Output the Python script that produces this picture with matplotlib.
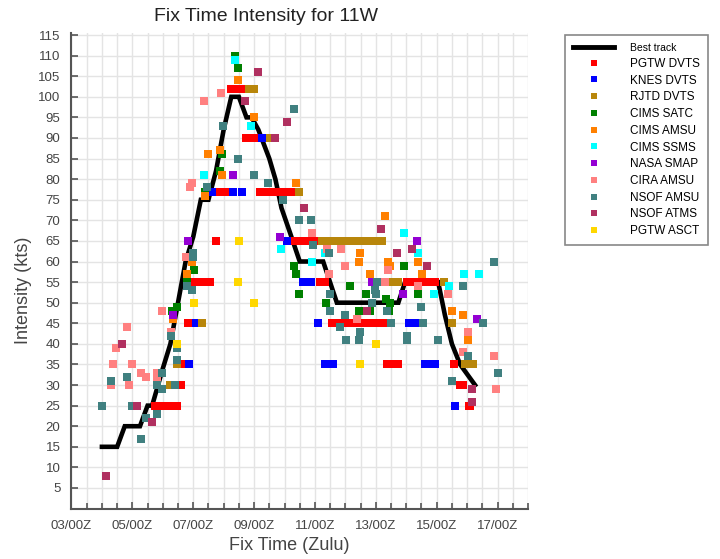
#!/usr/bin/env python3
"""
Fix time intensity chart for 11W (best track vs. satellite fixes)
"""

import matplotlib
matplotlib.use("Agg")
import matplotlib.pyplot as plt
from matplotlib.ticker import MultipleLocator

plt.rcParams['font.family'] = ['Liberation Sans', 'DejaVu Sans']

# Times are days since 03/00Z, intensities in kts
day_ticks = [0, 2, 4, 6, 8, 10, 12, 14]
day_labels = ['03/00Z', '05/00Z', '07/00Z', '09/00Z', '11/00Z', '13/00Z', '15/00Z', '17/00Z']

bt_t = [1.0, 1.5, 1.75, 2.25, 2.5, 2.65, 3.0, 3.25, 3.5, 3.75, 4.0, 4.25, 4.5, 4.75,
        5.0, 5.25, 5.5, 5.75, 5.92, 6.14, 6.5, 6.7, 6.9, 7.18, 7.5, 8.27, 8.72,
        10.74, 10.96, 12.05, 12.27, 12.5, 12.77, 13.26]
bt_v = [15, 15, 20, 20, 25, 25, 34, 40, 50, 60, 66, 75, 75, 82,
        92, 100, 100, 95, 95, 92, 85, 80, 73, 67, 60, 60, 50,
        50, 55, 55, 47, 40, 35, 30]

pgtw_dvts_t = [2.75, 2.875, 3.0, 3.125, 3.25, 3.375, 3.46, 3.59, 3.73, 3.84,
               4.0, 4.125, 4.25, 4.375, 4.54, 4.74, 4.88, 5.0, 5.09,
               5.24, 5.36, 5.48, 5.59, 5.73, 5.85, 5.96, 6.06,
               6.18, 6.3, 6.42, 6.54, 6.66, 6.78, 6.9, 7.02, 7.14, 7.23,
               7.34, 7.46, 7.58, 7.7, 7.82, 7.97, 8.15, 8.25, 8.33,
               8.55, 8.68, 8.8, 8.93, 9.05, 9.18, 9.3, 9.43, 9.55, 9.68, 9.8, 9.93, 10.05, 10.17, 10.22,
               10.38, 10.5, 10.62, 10.73,
               11.02, 11.15, 11.27, 11.4, 11.52, 11.65, 11.77, 11.9, 11.95,
               12.57, 12.75, 12.85, 13.05, 13.1]
pgtw_dvts_v = [25, 25, 25, 25, 25, 25, 25, 30, 35, 45,
               55, 55, 55, 55, 55, 65, 77, 77, 77,
               102, 102, 102, 102, 90, 90, 90, 90,
               77, 77, 77, 77, 77, 77, 77, 77, 77, 77,
               65, 65, 65, 65, 65, 65, 55, 55, 55,
               45, 45, 45, 45, 45, 45, 45, 45, 45, 45, 45, 45, 45, 45, 45,
               35, 35, 35, 35,
               55, 55, 55, 55, 55, 55, 55, 55, 55,
               35, 30, 30, 25, 25]

knes_dvts_t = [3.87, 4.09, 4.61, 5.32, 5.59, 6.25, 6.39, 7.07, 7.60, 7.86, 8.09, 8.33, 8.60,
               11.10, 11.34, 11.62, 11.78, 11.95, 12.60]
knes_dvts_v = [35, 45, 77, 77, 77, 90, 90, 65, 55, 55, 45, 35, 35,
               45, 45, 35, 35, 35, 25]

rjtd_dvts_t = [3.24, 3.48, 4.28, 5.84, 6.01, 6.52, 7.49,
               8.22, 8.44, 8.66, 8.88, 9.10, 9.32, 9.54, 9.76, 9.98, 10.2,
               10.58, 10.72, 12.23, 12.49, 12.93, 13.07, 13.2]
rjtd_dvts_v = [30, 35, 45, 102, 102, 90, 77,
               65, 65, 65, 65, 65, 65, 65, 65, 65, 65,
               55, 55, 55, 45, 35, 35, 35]

cims_satc_t = [3.29, 3.48, 3.79, 4.03, 4.39, 4.88, 4.94, 5.38, 5.47, 7.31, 7.38, 7.48,
               8.35, 9.15, 9.45, 9.68, 9.81, 10.33, 10.44, 10.47, 10.93, 11.40]
cims_satc_v = [48, 49, 55, 58, 77, 82, 86, 110, 107, 59, 57, 52,
               50, 54, 48, 52, 48, 51, 48, 50, 59, 52]

cims_amsu_t = [3.33, 3.81, 3.96, 4.39, 4.47, 4.88, 4.94, 5.47, 6.0, 7.38, 9.45, 9.48, 9.81,
               10.30, 10.41, 10.47, 11.40, 11.53, 12.51, 12.88, 13.04]
cims_amsu_v = [46, 57, 60, 76, 86, 87, 81, 104, 95, 79, 60, 62, 57,
               71, 60, 59, 60, 57, 48, 47, 41]

cims_ssms_t = [4.36, 5.38, 5.89, 6.88, 7.89, 8.33, 10.93, 11.40, 11.91, 12.42, 12.90, 13.39]
cims_ssms_v = [81, 109, 93, 63, 60, 62, 67, 62, 52, 54, 57, 57]

nasa_smap_t = [3.35, 3.84, 5.32, 6.85, 9.86, 10.88, 11.36, 13.34]
nasa_smap_v = [47, 65, 81, 66, 55, 52, 65, 46]

cira_amsu_t = [1.29, 1.35, 1.45, 1.81, 1.88, 1.98, 2.28, 2.45, 2.80, 2.80, 2.96, 3.26,
               3.76, 3.89, 3.95, 4.36, 4.90, 7.91, 8.39, 8.47, 8.85, 9.0, 9.39,
               10.30, 10.41, 11.40, 12.38, 12.88, 13.04, 13.88, 13.95]
cira_amsu_v = [30, 35, 39, 44, 30, 35, 33, 32, 33, 31, 48, 43,
               61, 78, 79, 99, 101, 67, 63, 57, 63, 59, 46,
               55, 58, 54, 52, 38, 43, 37, 29]

nsof_amsu_t = [0.99, 1.29, 1.81, 1.98, 2.27, 2.45, 2.82, 2.80, 2.96, 2.96, 3.40, 3.26,
               3.48, 3.48, 3.81, 3.96, 3.98, 4.0, 4.46, 4.99, 5.48, 6.0, 6.47, 6.96,
               7.31, 7.48, 7.86, 7.95, 8.47, 8.49, 8.49, 8.82, 8.99, 9.01, 9.45, 9.48,
               9.86, 9.97, 10.0, 10.03, 10.36, 10.49, 11.01, 11.01, 11.48, 11.56, 12.05,
               12.51, 12.88, 13.04, 13.51, 13.88, 14.03]
nsof_amsu_v = [25, 31, 32, 25, 17, 22, 23, 30, 33, 29, 30, 42,
               39, 36, 54, 53, 61, 62, 78, 93, 85, 81, 79, 75,
               97, 70, 70, 64, 62, 52, 48, 44, 47, 41, 41, 43,
               50, 53, 52, 55, 48, 45, 42, 41, 49, 45, 41,
               31, 54, 37, 45, 60, 33]

nsof_atms_t = [1.12, 1.66, 2.14, 2.66, 5.69, 6.14, 6.69, 7.09, 7.65, 9.72, 10.17, 10.69,
               11.18, 11.67, 13.15, 13.15]
nsof_atms_v = [8, 40, 25, 21, 99, 106, 90, 94, 73, 48, 68, 62,
               63, 59, 29, 26]

pgtw_asct_t = [3.48, 4.03, 5.46, 5.49, 5.99, 9.48, 10.0]
pgtw_asct_v = [40, 50, 55, 65, 50, 35, 40]

fixes = [
    ('PGTW DVTS', pgtw_dvts_t, pgtw_dvts_v, '#ff0000'),
    ('KNES DVTS', knes_dvts_t, knes_dvts_v, '#0000ff'),
    ('RJTD DVTS', rjtd_dvts_t, rjtd_dvts_v, '#b8860b'),
    ('CIMS SATC', cims_satc_t, cims_satc_v, '#008000'),
    ('CIMS AMSU', cims_amsu_t, cims_amsu_v, '#ff8000'),
    ('CIMS SSMS', cims_ssms_t, cims_ssms_v, '#00ffff'),
    ('NASA SMAP', nasa_smap_t, nasa_smap_v, '#9400d3'),
    ('CIRA AMSU', cira_amsu_t, cira_amsu_v, '#ff8080'),
    ('NSOF AMSU', nsof_amsu_t, nsof_amsu_v, '#408080'),
    ('NSOF ATMS', nsof_atms_t, nsof_atms_v, '#b03060'),
    ('PGTW ASCT', pgtw_asct_t, pgtw_asct_v, '#ffd700'),
]

fig = plt.figure(figsize=(7.2, 5.59), dpi=100)
ax = fig.add_axes([0.0993, 0.0902, 0.634, 0.8508])

handles = []
h, = ax.plot(bt_t, bt_v, color='black', linewidth=3.3, solid_joinstyle='miter',
             label='Best track', zorder=2)
handles.append(h)
for name, t, v, color in fixes:
    h, = ax.plot(t, v, linestyle='none', marker='s', markersize=5.2,
                 markeredgewidth=0, color=color, label=name, zorder=3)
    handles.append(h)

ax.set_xlim(0, 15)
ax.set_ylim(0, 115.5)
ax.set_xticks(day_ticks)
ax.set_xticklabels(day_labels)
ax.xaxis.set_minor_locator(MultipleLocator(0.5))
ax.set_yticks(range(5, 116, 5))

ax.grid(True, which='both', color='#e4e4e4', linewidth=1.0, zorder=0)
ax.set_axisbelow(True)
for side in ['top', 'right']:
    ax.spines[side].set_visible(False)
for side in ['left', 'bottom']:
    ax.spines[side].set_color('#555555')
    ax.spines[side].set_linewidth(1.5)
ax.tick_params(which='both', direction='in', color='#555555', width=1.2,
               labelsize=9.5, labelcolor='#444444')
ax.tick_params(axis='y', pad=8)
ax.tick_params(axis='x', pad=8)
ax.tick_params(which='major', length=5)
ax.tick_params(which='minor', length=4)

fig.text(0.369, 0.971, 'Fix Time Intensity for 11W', ha='center', va='center',
         fontsize=14, color='#222222')
fig.text(0.402, 0.025, 'Fix Time (Zulu)', ha='center', va='center',
         fontsize=13, color='#444444')
fig.text(0.033, 0.481, 'Intensity (kts)', ha='center', va='center',
         rotation=90, fontsize=13, color='#444444')

leg = fig.legend(handles=handles, loc='upper left', bbox_to_anchor=(0.785, 0.938),
                 borderaxespad=0, fontsize=8.5, frameon=True, fancybox=False,
                 framealpha=1, edgecolor='#888888', handlelength=3.4,
                 labelspacing=0.4, borderpad=0.7, handletextpad=1.4, markerscale=0.8)
leg.get_frame().set_linewidth(1.2)
leg.get_lines()[0].set_linewidth(3.5)
leg.get_texts()[0].set_fontsize(7.5)

plt.savefig('out.png', dpi=100)
